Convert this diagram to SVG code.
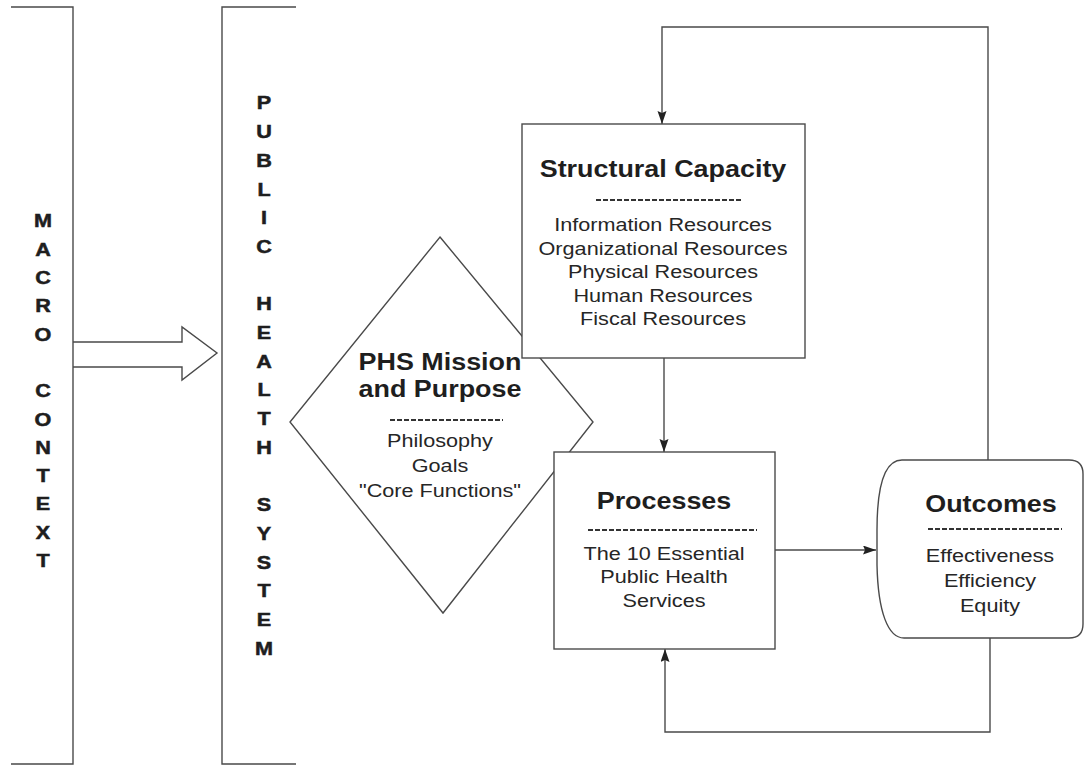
<svg xmlns="http://www.w3.org/2000/svg" width="1086" height="768" viewBox="0 0 1086 768">
<style>
.ln{fill:none;stroke:#4a4a4a;stroke-width:1.4}
.box{fill:#fff;stroke:#4a4a4a;stroke-width:1.4}
.dash{stroke:#333;stroke-width:2;stroke-dasharray:5 2}
.t{font-family:"Liberation Sans",Arial,sans-serif;fill:#1e1e1e;text-anchor:middle}
.h{font-size:23px;font-weight:bold}
.b{font-size:18.5px;fill:#262626}
.v{font-size:18px;font-weight:bold;stroke:#1e1e1e;stroke-width:0.5}
</style>
<defs>
<marker id="ah" markerWidth="14" markerHeight="10" refX="13" refY="4.5" orient="auto" markerUnits="userSpaceOnUse">
<path d="M0,0 L13,4.5 L0,9 L2,4.5 Z" fill="#222"/>
</marker>
</defs>
<rect width="1086" height="768" fill="#fff"/>

<g id="macro-context">
<path class="ln" d="M11,7 L73,7 L73,764 L11,764"/>
<text class="t v" transform="translate(43,0) scale(1.2,1)">
<tspan x="0" y="227.5">M</tspan><tspan x="0" dy="28.3">A</tspan><tspan x="0" dy="28.3">C</tspan><tspan x="0" dy="28.3">R</tspan><tspan x="0" dy="28.3">O</tspan><tspan x="0" dy="56.6">C</tspan><tspan x="0" dy="28.3">O</tspan><tspan x="0" dy="28.3">N</tspan><tspan x="0" dy="28.3">T</tspan><tspan x="0" dy="28.3">E</tspan><tspan x="0" dy="28.3">X</tspan><tspan x="0" dy="28.3">T</tspan>
</text>
</g>

<g id="public-health-system">
<path class="ln" d="M296,7 L222,7 L222,764 L296,764"/>
<text class="t v" transform="translate(264,0) scale(1.2,1)">
<tspan x="0" y="109.5">P</tspan><tspan x="0" dy="28.7">U</tspan><tspan x="0" dy="28.7">B</tspan><tspan x="0" dy="28.7">L</tspan><tspan x="0" dy="28.7">I</tspan><tspan x="0" dy="28.7">C</tspan><tspan x="0" dy="57.4">H</tspan><tspan x="0" dy="28.7">E</tspan><tspan x="0" dy="28.7">A</tspan><tspan x="0" dy="28.7">L</tspan><tspan x="0" dy="28.7">T</tspan><tspan x="0" dy="28.7">H</tspan><tspan x="0" dy="57.4">S</tspan><tspan x="0" dy="28.7">Y</tspan><tspan x="0" dy="28.7">S</tspan><tspan x="0" dy="28.7">T</tspan><tspan x="0" dy="28.7">E</tspan><tspan x="0" dy="28.7">M</tspan>
</text>
</g>

<g id="connectors">
<path class="ln" d="M73,342 L182,342 L182,327 L217,353 L182,380 L182,367 L73,367" fill="#fff"/>
<path class="ln" d="M988,460 L988,27 L662,27 L662,124" marker-end="url(#ah)"/>
<path class="ln" d="M664,358 L664,452" marker-end="url(#ah)"/>
<path class="ln" d="M775,550 L876,550" marker-end="url(#ah)"/>
<path class="ln" d="M990,638 L990,732 L665,732 L665,649" marker-end="url(#ah)"/>
</g>

<g id="mission">
<path class="box" d="M440,237 L593,422 L443,613 L290,422 Z"/>
<text class="t h" transform="translate(440,0) scale(1.17,1)"><tspan x="0" y="370">PHS Mission</tspan><tspan x="0" y="397">and Purpose</tspan></text>
<line class="dash" x1="390" y1="420" x2="503" y2="420"/>
<text class="t b" transform="translate(440,0) scale(1.17,1)"><tspan x="0" y="447">Philosophy</tspan><tspan x="0" y="472">Goals</tspan><tspan x="0" y="497">"Core Functions"</tspan></text>
</g>

<g id="structural-capacity">
<rect class="box" x="522" y="124" width="283" height="234"/>
<text class="t h" x="0" y="177" transform="translate(663,0) scale(1.17,1)">Structural Capacity</text>
<line class="dash" x1="596" y1="200" x2="742" y2="200"/>
<text class="t b" transform="translate(663,0) scale(1.17,1)"><tspan x="0" y="231.5">Information Resources</tspan><tspan x="0" y="255">Organizational Resources</tspan><tspan x="0" y="278.5">Physical Resources</tspan><tspan x="0" y="302">Human Resources</tspan><tspan x="0" y="325.5">Fiscal Resources</tspan></text>
</g>

<g id="processes">
<rect class="box" x="554" y="452" width="221" height="197"/>
<text class="t h" x="0" y="509" transform="translate(664,0) scale(1.17,1)">Processes</text>
<line class="dash" x1="588" y1="530" x2="757" y2="530"/>
<text class="t b" transform="translate(664,0) scale(1.17,1)"><tspan x="0" y="560">The 10 Essential</tspan><tspan x="0" y="583.5">Public Health</tspan><tspan x="0" y="607">Services</tspan></text>
</g>

<g id="outcomes">
<path class="box" d="M902,460 L1069,460 Q1083,460 1083,474 L1083,624 Q1083,638 1069,638 L904,638 C888,638 878,612 877,565 L877,530 C877,488 884,460 902,460 Z"/>
<text class="t h" x="0" y="512" transform="translate(991,0) scale(1.17,1)">Outcomes</text>
<line class="dash" x1="928" y1="529" x2="1062" y2="529"/>
<text class="t b" transform="translate(990,0) scale(1.17,1)"><tspan x="0" y="562">Effectiveness</tspan><tspan x="0" y="587">Efficiency</tspan><tspan x="0" y="612">Equity</tspan></text>
</g>
</svg>
